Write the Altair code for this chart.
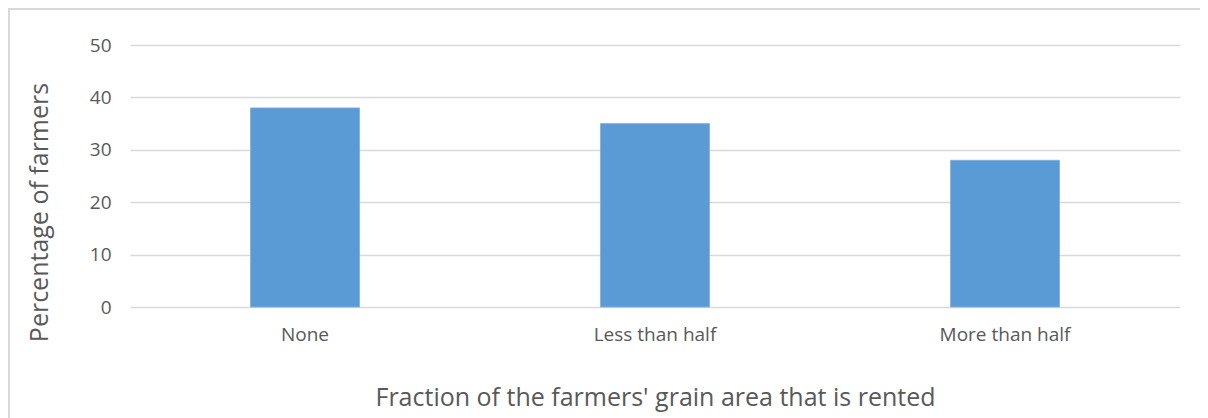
import altair as alt
import pandas as pd

categories = ["None", "Less than half", "More than half"]
values = [38, 35, 28]

df = pd.DataFrame({"cat": categories, "pct": values})

W, H = 1050, 262
FONT = "Open Sans"
TXT = "#595959"

bars = alt.Chart(df).mark_bar(color="#5b9bd5", size=109, stroke="#7fb0e0", strokeWidth=0.8).encode(
    x=alt.X("cat:N", sort=categories,
            scale=alt.Scale(paddingInner=0, paddingOuter=0),
            axis=alt.Axis(title="Fraction of the farmers' grain area that is rented",
                          labelAngle=0, labelFont=FONT, labelFontSize=19, labelColor=TXT,
                          labelPadding=18, ticks=False, domain=False,
                          titleFont=FONT, titleFontSize=25, titleColor=TXT, titleFontWeight="normal",
                          titleY=90, titleBaseline="middle")),
    y=alt.Y("pct:Q", scale=alt.Scale(domain=[0, 50]),
            axis=alt.Axis(title="Percentage of farmers", values=[0, 10, 20, 30, 40, 50],
                          labelFont=FONT, labelFontSize=19, labelColor=TXT,
                          labelPadding=19, ticks=False, domain=False,
                          gridColor="#d9d9d9", gridWidth=1.5,
                          titleFont=FONT, titleFontSize=25, titleColor=TXT, titleFontWeight="normal",
                          titleX=-91, titleY=H / 2 + 36, titleAngle=-90,
                          titleAlign="center", titleBaseline="middle")),
)

frame = alt.Chart(df).mark_rect(fill=None, stroke="#d9d9d9", strokeWidth=1.5).encode(
    x=alt.value(-121), x2=alt.value(W + 100),
    y=alt.value(-36), y2=alt.value(H + 200),
)

chart = alt.layer(frame, bars).properties(
    width=W, height=H,
    autosize=alt.AutoSizeParams(type="none"),
    padding={"left": 122, "top": 37, "right": 20, "bottom": 111},
).configure_view(stroke=None)

chart.save("out.html", embed_options={"renderer": "svg", "actions": False})
